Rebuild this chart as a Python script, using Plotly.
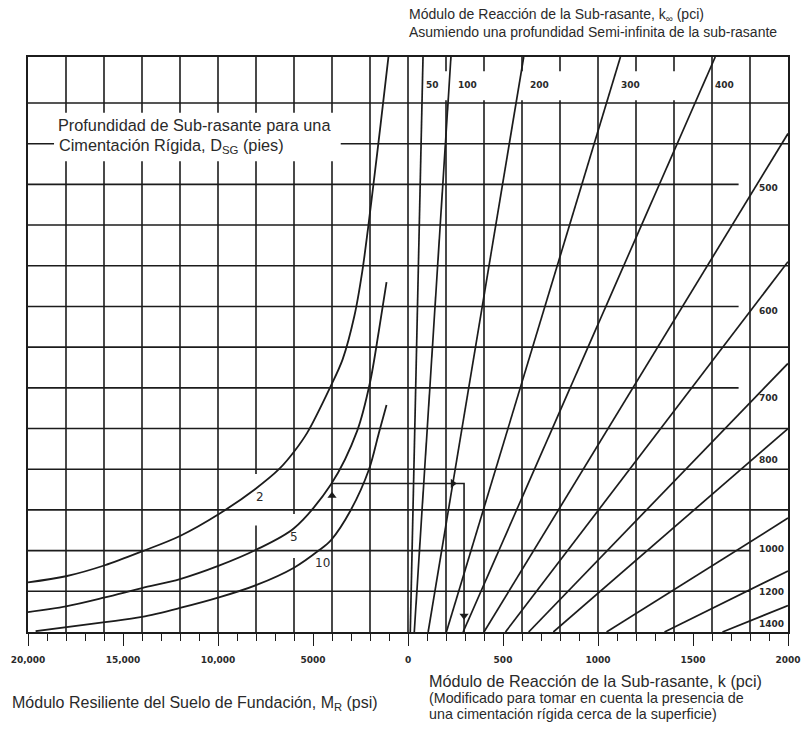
import plotly.graph_objects as go

# Left half: curves of depth to rigid foundation D_SG (ft); MR in psi, v = nomograph height (grid units)
dsg_names = ["2", "5", "10"]
mr_dsg2 = [20000, 18000, 15950, 14000, 12000, 9950, 8050, 6790, 6000, 5300, 4110, 3440, 2820, 2410, 2100, 1850, 1440, 1030]
v_dsg2 = [1.22, 1.37, 1.64, 1.98, 2.36, 2.90, 3.51, 4.00, 4.43, 4.90, 6.00, 6.70, 7.77, 8.85, 9.93, 10.88, 12.48, 14.13]
mr_dsg5 = [20000, 18000, 15950, 14000, 12000, 9950, 8000, 6000, 4050, 2670, 2000, 1540, 1130]
v_dsg5 = [0.49, 0.63, 0.85, 1.08, 1.30, 1.63, 2.02, 2.55, 3.63, 4.95, 6.13, 7.38, 8.60]
mr_dsg10 = [19600, 15950, 14000, 12000, 9950, 8000, 6000, 4650, 4050, 3030, 2050, 1540, 1130]
v_dsg10 = [0.02, 0.24, 0.37, 0.59, 0.85, 1.15, 1.58, 2.02, 2.26, 2.98, 4.00, 4.88, 5.58]

# Right half: straight lines of k_inf (pci) -> composite k (pci) read at the bottom
kinf_values = [50, 100, 200, 300, 400, 500, 600, 700, 800, 1000, 1200, 1400]
k_bottom = [12, 33, 106, 202, 290, 400, 513, 635, 765, 1045, 1350, 1655]
k_upper = [79, 226, 609, 1118, 1617, 2000, 2000, 2000, 2000, 2000, 2000, 2000]
v_upper = [14.13, 14.13, 14.13, 14.13, 14.13, 12.25, 9.1, 6.6, 5.0, 2.8, 1.5, 0.65]

# Worked example
example_mr = 4000
example_v = 3.65
example_k = 295
example_kinf = 200

# Axis ticks (left half in psi, right half in pci)
tick_vals = [-2000, -1500, -1000, -500, 0, 500, 1000, 1500, 2000]
tick_text = ["20,000", "15,000", "10,000", "5000", "0", "500", "1000", "1500", "2000"]

V_TOP = 14.13
INK = "#1c1c1c"
TXT = "#2a2a2a"


def mr_x(mr):
    return -mr / 10.0


fig = go.Figure()

for mrs, vs in [(mr_dsg2, v_dsg2), (mr_dsg5, v_dsg5), (mr_dsg10, v_dsg10)]:
    fig.add_trace(go.Scatter(x=[mr_x(m) for m in mrs], y=vs, mode="lines",
                             line=dict(color=INK, width=1.8, shape="spline", smoothing=0.9),
                             hoverinfo="skip", showlegend=False))

for kb, ku, vu in zip(k_bottom, k_upper, v_upper):
    fig.add_trace(go.Scatter(x=[kb, ku], y=[0, vu], mode="lines",
                             line=dict(color=INK, width=1.7),
                             hoverinfo="skip", showlegend=False))

# example path
fig.add_trace(go.Scatter(x=[mr_x(example_mr), example_k, example_k], y=[example_v, example_v, 0],
                         mode="lines", line=dict(color=INK, width=1.6),
                         hoverinfo="skip", showlegend=False))
i200 = kinf_values.index(example_kinf)
k_cross = k_bottom[i200] + (k_upper[i200] - k_bottom[i200]) * example_v / v_upper[i200]
fig.add_trace(go.Scatter(x=[mr_x(example_mr), k_cross, example_k],
                         y=[example_v - 0.3, example_v, 0.4], mode="markers",
                         marker=dict(symbol=["triangle-up", "triangle-right", "triangle-down"],
                                     size=8, color=INK),
                         hoverinfo="skip", showlegend=False))

# ---------------- grid (drawn as shapes) ----------------
shapes = []
right_gap = {200, 400, 600, 800, 1200, 1400}
left_gaps = {-800: (2.62, 3.88), -600: (1.82, 2.9)}
for u in range(-1800, 2000, 200):
    if u in right_gap:
        segs = [(0, 13.07), (13.78, V_TOP)]
    elif u in left_gaps:
        a, b = left_gaps[u]
        segs = [(0, a), (b, V_TOP)]
    else:
        segs = [(0, V_TOP)]
    for y0, y1 in segs:
        shapes.append(dict(type="line", xref="x", yref="y", x0=u, x1=u, y0=y0, y1=y1,
                           line=dict(color=INK, width=1.6), layer="below"))
row_end = {11: 1740, 8: 1740, 6: 1740, 2: 1800, 1: 1800}
for v in range(1, 14):
    shapes.append(dict(type="line", xref="x", yref="y", x0=-2000, x1=row_end.get(v, 2000), y0=v, y1=v,
                       line=dict(color=INK, width=1.6), layer="below"))
# blank area behind the left caption
shapes.append(dict(type="rect", xref="x", yref="y", x0=-1863, x1=-354, y0=11.57, y1=12.76,
                   fillcolor="white", line=dict(width=0), layer="below"))

# ---------------- annotations ----------------
ann = []
lab_font = dict(family="DejaVu Sans", size=9, color=TXT, weight="bold")
for name, (x, y) in zip(dsg_names, [(-779, 3.32), (-600, 2.33), (-449, 1.7)]):
    ann.append(dict(x=x, y=y, xref="x", yref="y", text=name, showarrow=False,
                    font=dict(family="DejaVu Sans", size=12, color=TXT)))
top_pos = {50: 84, 100: 252, 200: 630, 300: 1108, 400: 1606}
right_pos = {500: 10.9, 600: 7.9, 700: 5.75, 800: 4.22, 1000: 2.05, 1200: 0.98, 1400: 0.2}
for kv in kinf_values:
    if kv in top_pos:
        ann.append(dict(x=top_pos[kv], y=13.43, xref="x", yref="y", text=str(kv), showarrow=False,
                        xanchor="left", font=lab_font))
    else:
        ann.append(dict(x=1837, y=right_pos[kv], xref="x", yref="y", text=str(kv), showarrow=False,
                        xanchor="left", font=lab_font))


def px(xp):
    return (xp - 28) / 760.0


def py(yp):
    return (632 - yp) / 575.0


def txt(x, y, s, size):
    ann.append(dict(x=px(x), y=py(y), xref="paper", yref="paper", text=s, showarrow=False,
                    xanchor="left", yanchor="middle",
                    font=dict(family="Liberation Sans, Arial", size=size, color=TXT)))


txt(407, 15, "Módulo de Reacción de la Sub-rasante, k<sub>∞</sub> (pci)", 14)
txt(407, 32, "Asumiendo una profundidad Semi-infinita de la sub-rasante", 14)
txt(56, 125, "Profundidad de Sub-rasante para una", 16.3)
txt(57, 146, "Cimentación Rígida, D<sub>SG</sub> (pies)", 16.3)
txt(10, 704, "Módulo Resiliente del Suelo de Fundación, M<sub>R</sub> (psi)", 16)
txt(427, 681, "Módulo de Reacción de la Sub-rasante, k (pci)", 16.2)
txt(427, 698, "(Modificado para tomar en cuenta la presencia de", 14.3)
txt(427, 714, "una cimentación rígida cerca de la superficie)", 14.3)

fig.update_layout(
    width=804, height=729,
    margin=dict(l=28, r=16, t=57, b=97, autoexpand=False),
    paper_bgcolor="white", plot_bgcolor="white",
    shapes=shapes, annotations=ann, showlegend=False,
    xaxis=dict(range=[-2000, 2000], showgrid=False, zeroline=False, automargin=False,
               showline=True, mirror=True, linecolor=INK, linewidth=1.6,
               ticks="outside", ticklen=12, tickwidth=1.4, tickcolor=INK,
               tickvals=tick_vals, ticktext=tick_text, ticklabelstandoff=6,
               ticklabeloverflow="allow",
               tickfont=dict(family="DejaVu Sans", size=9, color=TXT, weight="bold"),
               minor=dict(ticks="outside", ticklen=7, tickwidth=1.3, tickcolor=INK,
                          dtick=100, tick0=0, showgrid=False),
               fixedrange=True),
    yaxis=dict(range=[0, V_TOP], showgrid=False, zeroline=False, automargin=False,
               showline=True, mirror=True, linecolor=INK, linewidth=1.6,
               showticklabels=False, ticks="", fixedrange=True),
)

# remove the default page margin so the 804x729 figure fills the window exactly
fig.write_html("out.html", config={"displayModeBar": False},
               post_script="document.body.style.margin='0';document.body.style.overflow='hidden';")
